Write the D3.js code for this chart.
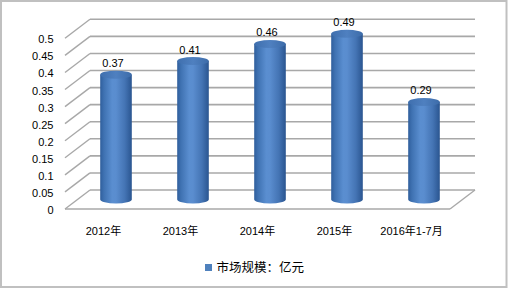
<!DOCTYPE html>
<html><head><meta charset="utf-8">
<script src="https://cdn.jsdelivr.net/npm/d3@7"></script>
<style>body{margin:0;background:#fff}svg{display:block}</style>
</head><body>
<svg id="c" width="510" height="290"></svg>
<script>
const categories = ["2012年","2013年","2014年","2015年","2016年1-7月"];
const values = [0.37,0.41,0.46,0.49,0.29];
const yTicks = [0,0.05,0.1,0.15,0.2,0.25,0.3,0.35,0.4,0.45,0.5];
const tickLabels = ["0","0.05","0.1","0.15","0.2","0.25","0.3","0.35","0.4","0.45","0.5"];
const seriesName = "市场规模：亿元";

const svg = d3.select("#c");
const font = "'Liberation Sans', Arial, 'Noto Sans CJK SC', sans-serif";
const cjk = "'Noto Sans CJK SC', 'Liberation Sans', sans-serif";

// frame
svg.append("rect").attr("x",1).attr("y",1).attr("width",505.5).attr("height",286)
  .attr("fill","#fff").attr("stroke","#c0c0c0").attr("stroke-width",2);

const DX = 25, DY = -19; // depth offset front->back
const x = d3.scaleBand().domain(categories).range([65,450]);
const y = d3.scaleLinear().domain([0,0.5]).range([190,19.3]); // back wall

const grid = "#a8a8a8";
const g = svg.append("g");
// back wall gridlines and left wall diagonals
yTicks.forEach((t,i)=>{
  const yb = y(t);
  g.append("line").attr("x1",65+DX).attr("x2",450+DX).attr("y1",yb).attr("y2",yb)
    .attr("stroke",grid).attr("stroke-width",1.6);
  g.append("line").attr("x1",65).attr("y1",yb-DY).attr("x2",65+DX).attr("y2",yb)
    .attr("stroke",grid).attr("stroke-width",1.4);
  g.append("text").attr("x",53.5).attr("y",yb-DY+5).attr("text-anchor","end")
    .attr("font-family",font).attr("font-size",11).attr("fill","#000").text(tickLabels[i]);
});
// floor front edge and right diagonal
g.append("line").attr("x1",65).attr("x2",450).attr("y1",y(0)-DY).attr("y2",y(0)-DY)
  .attr("stroke",grid).attr("stroke-width",1.6);
g.append("line").attr("x1",450).attr("y1",y(0)-DY).attr("x2",450+DX).attr("y2",y(0))
  .attr("stroke",grid).attr("stroke-width",1.4);

// gradients
const defs = svg.append("defs");
const gb = defs.append("linearGradient").attr("id","body").attr("x1","0").attr("x2","1").attr("y1","0").attr("y2","0");
[[0,"#2f5e9c"],[0.12,"#3f72b2"],[0.38,"#5a8ed0"],[0.5,"#5a8dcf"],[0.78,"#4474b4"],[1,"#2a5590"]]
  .forEach(s=>gb.append("stop").attr("offset",s[0]).attr("stop-color",s[1]));
const gt = defs.append("linearGradient").attr("id","top").attr("x1","0").attr("x2","1").attr("y1","0").attr("y2","0");
[[0,"#3f6fae"],[0.5,"#4f80c0"],[1,"#3d6ca9"]]
  .forEach(s=>gt.append("stop").attr("offset",s[0]).attr("stop-color",s[1]));

const r = 15.8, ry = 4;
const bars = g.selectAll(".bar").data(values).enter().append("g");
bars.each(function(v,i){
  const cx = x(categories[i]) + x.bandwidth()/2 + DX/2;
  const yb = y(0) - DY/2;
  const yt = y(v) - DY/2 + 1.5;
  const sel = d3.select(this);
  sel.append("path").attr("d",
    `M${cx-r},${yt} L${cx-r},${yb} A${r},${ry} 0 0 0 ${cx+r},${yb} L${cx+r},${yt} Z`)
    .attr("fill","url(#body)");
  sel.append("ellipse").attr("cx",cx).attr("cy",yt).attr("rx",r).attr("ry",ry)
    .attr("fill","url(#top)");
  sel.append("text").attr("x",cx-3).attr("y",yt-ry-3.5).attr("text-anchor","middle")
    .attr("font-family",font).attr("font-size",11).attr("fill","#000").text(v);
});

// category labels
categories.forEach(c=>{
  g.append("text").attr("x",x(c)+x.bandwidth()/2).attr("y",235).attr("text-anchor","middle")
    .attr("font-family",font).attr("font-size",11).attr("fill","#000").text(c);
});

// legend
svg.append("rect").attr("x",205).attr("y",264).attr("width",7).attr("height",7).attr("fill","#4f81bd");
svg.append("text").attr("x",216.5).attr("y",272).attr("font-family",cjk).attr("font-size",12.5)
  .attr("fill","#000").text(seriesName);
</script>
</body></html>
